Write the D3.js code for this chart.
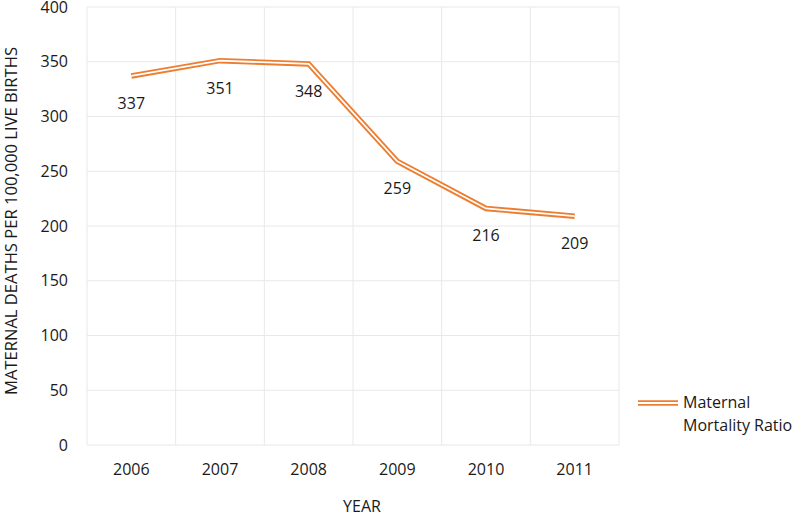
<!DOCTYPE html>
<html>
<head>
<meta charset="utf-8">
<script src="https://cdn.jsdelivr.net/npm/d3@7"></script>
<style>
  body { margin: 0; background: #fff; }
  text { font-family: "Open Sans", sans-serif; fill: #1a1a1a; }
</style>
</head>
<body>
<div id="chart"></div>
<script>
const years = ["2006", "2007", "2008", "2009", "2010", "2011"];
const mmr = [337, 351, 348, 259, 216, 209];
const yTicks = [0, 50, 100, 150, 200, 250, 300, 350, 400];
const seriesName = ["Maternal", "Mortality Ratio"];

const W = 799, H = 516;
const margin = { top: 7, right: 180, bottom: 71, left: 87 };
const width = W - margin.left - margin.right;
const height = H - margin.top - margin.bottom;
const orange = "#ED7D31";
const grid = "#e8e8e8";

const svg = d3.select("#chart")
  .append("svg")
  .attr("width", W)
  .attr("height", H);

const g = svg.append("g")
  .attr("transform", "translate(" + margin.left + "," + margin.top + ")");

const x = d3.scaleBand().domain(years).range([0, width]).padding(0);
const y = d3.scaleLinear().domain([0, 400]).range([height, 0]);

// horizontal gridlines
g.append("g")
  .selectAll("line")
  .data(yTicks)
  .join("line")
  .attr("x1", 0)
  .attr("x2", width)
  .attr("y1", d => y(d))
  .attr("y2", d => y(d))
  .attr("stroke", grid)
  .attr("stroke-width", 1);

// vertical gridlines at category boundaries
const edges = years.map(d => x(d)).concat([width]);
g.append("g")
  .selectAll("line")
  .data(edges)
  .join("line")
  .attr("x1", d => d)
  .attr("x2", d => d)
  .attr("y1", 0)
  .attr("y2", height)
  .attr("stroke", grid)
  .attr("stroke-width", 1);

// y axis labels
const yAxis = d3.axisLeft(y).tickValues(yTicks).tickSize(0).tickPadding(19);
g.append("g")
  .call(yAxis)
  .call(s => s.select(".domain").remove())
  .selectAll("text")
  .style("font-family", "'Open Sans', sans-serif")
  .style("font-size", "16px")
  .attr("fill", "#1a1a1a");

// x axis labels
const xAxis = d3.axisBottom(x).tickSize(0).tickPadding(19);
g.append("g")
  .attr("transform", "translate(0," + height + ")")
  .call(xAxis)
  .call(s => s.select(".domain").remove())
  .selectAll("text")
  .style("font-family", "'Open Sans', sans-serif")
  .style("font-size", "16px")
  .attr("fill", "#1a1a1a");

// axis titles
svg.append("text")
  .attr("x", 362)
  .attr("y", 512)
  .style("text-anchor", "middle")
  .style("font-size", "16px")
  .text("YEAR");

svg.append("text")
  .attr("transform", "translate(17,221) rotate(-90)")
  .style("text-anchor", "middle")
  .style("font-size", "16px")
  .attr("textLength", 348)
  .attr("lengthAdjust", "spacingAndGlyphs")
  .text("MATERNAL DEATHS PER 100,000 LIVE BIRTHS");

// double line: orange stroke with a thin white core
const line = d3.line()
  .x((d, i) => x(years[i]) + x.bandwidth() / 2)
  .y(d => y(d));

g.append("path")
  .datum(mmr)
  .attr("fill", "none")
  .attr("stroke", orange)
  .attr("stroke-width", 5.5)
  .attr("stroke-linejoin", "miter")
  .attr("d", line);
g.append("path")
  .datum(mmr)
  .attr("fill", "none")
  .attr("stroke", "#fff")
  .attr("stroke-width", 1.8)
  .attr("stroke-linejoin", "miter")
  .attr("d", line);

// data labels
g.append("g")
  .selectAll("text")
  .data(mmr)
  .join("text")
  .attr("x", (d, i) => x(years[i]) + x.bandwidth() / 2)
  .attr("y", d => y(d) + 33)
  .style("text-anchor", "middle")
  .style("font-size", "16px")
  .text(d => d);

// legend
const lg = svg.append("g").attr("transform", "translate(638,403)");
lg.append("line")
  .attr("x1", 0).attr("x2", 40).attr("y1", 0).attr("y2", 0)
  .attr("stroke", orange).attr("stroke-width", 5.5);
lg.append("line")
  .attr("x1", 0).attr("x2", 40).attr("y1", 0).attr("y2", 0)
  .attr("stroke", "#fff").attr("stroke-width", 1.8);
lg.append("text")
  .attr("x", 45)
  .attr("y", 5)
  .style("font-size", "16px")
  .selectAll("tspan")
  .data(seriesName)
  .join("tspan")
  .attr("x", 45)
  .attr("dy", (d, i) => (i === 0 ? 0 : 23))
  .text(d => d);
</script>
</body>
</html>
